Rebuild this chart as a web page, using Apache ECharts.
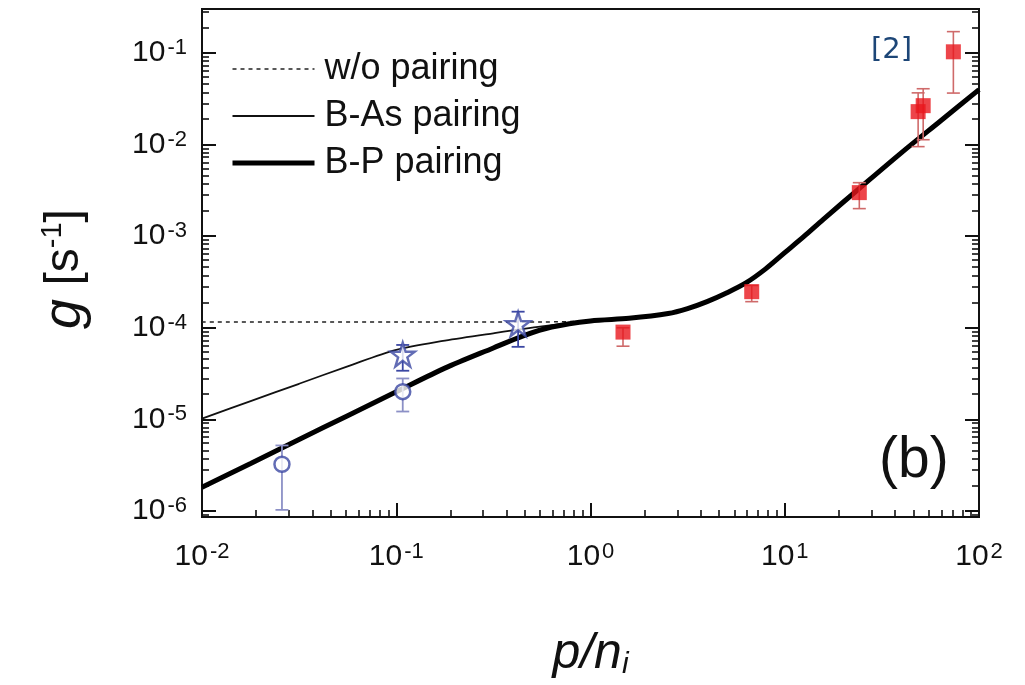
<!DOCTYPE html>
<html>
<head>
<meta charset="utf-8">
<script src="https://cdn.jsdelivr.net/npm/echarts@6/dist/echarts.min.js"></script>
<style>
  html, body { margin: 0; padding: 0; background: #fff; }
  #chart { width: 1025px; height: 685px; }
</style>
</head>
<body>
<div id="chart"></div>
<script>
// Model curve: B-P pairing (g in s^-1 against p/n_i)
const bpP = [0.01, 0.0178, 0.0316, 0.0562, 0.1, 0.178, 0.316, 0.447, 0.631, 1.0, 1.58, 2.51, 3.16, 3.98, 5.01, 6.31, 7.94, 10, 12.6, 15.8, 25.1, 39.8, 63.1, 100];
const bpG = [1.82e-6, 3.31e-6, 6.03e-6, 1.10e-5, 2.0e-5, 3.63e-5, 6.03e-5, 8.13e-5, 1.02e-4, 1.19e-4, 1.27e-4, 1.43e-4, 1.62e-4, 1.93e-4, 2.40e-4, 3.09e-4, 4.37e-4, 6.61e-4, 1.0e-3, 1.53e-3, 3.55e-3, 8.13e-3, 0.0180, 0.0398];

// Model curve: B-As pairing (low-p branch; joins the B-P curve above p/n_i = 1)
const basP = [0.01, 0.0178, 0.0316, 0.0562, 0.1, 0.178, 0.316, 0.562, 1.0];
const basG = [1.02e-5, 1.585e-5, 2.45e-5, 3.80e-5, 5.75e-5, 7.24e-5, 8.71e-5, 1.035e-4, 1.19e-4];

// Model curve: without pairing (flat branch; joins the B-P curve above p/n_i = 1)
const noP = [0.01, 0.1, 0.562, 1.0];
const noG = [1.16e-4, 1.16e-4, 1.16e-4, 1.19e-4];

// Measured points, open circles
const circP = [0.0258, 0.108];
const circG = [3.24e-6, 2.01e-5];
const circLo = [1.03e-6, 1.22e-5];
const circHi = [5.2e-6, 2.8e-5];

// Measured points, open stars
const starP = [0.108, 0.424];
const starG = [5.1e-5, 1.1e-4];
const starLo = [3.4e-5, 6.2e-5];
const starHi = [6.5e-5, 1.5e-4];

// Measured points, filled squares
const sqP = [1.47, 6.76, 24.2, 48.6, 51.6, 73.8];
const sqG = [8.98e-5, 2.48e-4, 2.99e-3, 0.0229, 0.0266, 0.103];
const sqLo = [6.3e-5, 1.93e-4, 2.0e-3, 9.5e-3, 0.0113, 0.0365];
const sqHi = [1.0e-4, 2.9e-4, 3.84e-3, 0.0367, 0.0407, 0.171];

// Axis ranges (decade exponents)
const xRange = [-2, 2];
const yRange = [-6.065, -0.52];

const FONT = 'Liberation Sans, Arial, sans-serif';
const BLUE = '#3b47a3';
const BLUE_ERR = '#8c90c6';
const RED = '#e8161d';
const RED_ERR = '#cf6a6a';

const zip = (xs, ys) => xs.map((x, i) => [x, ys[i]]);
const zip3 = (xs, a, b) => xs.map((x, i) => [x, a[i], b[i]]);

// the other two model curves follow the B-P curve beyond p/n_i = 1
const joinIdx = bpP.indexOf(1.0) + 1;
const basData = zip(basP, basG).concat(zip(bpP.slice(joinIdx), bpG.slice(joinIdx)));
const noData = zip(noP, noG).concat(zip(bpP.slice(joinIdx), bpG.slice(joinIdx)));

function isDecade(v) {
  const e = Math.log10(v);
  return Math.abs(e - Math.round(e)) < 1e-6;
}
function powLabel(v) {
  if (!isDecade(v)) return '';
  return '{b|10}{s|' + Math.round(Math.log10(v)) + '}';
}
const labelRich = {
  b: { fontFamily: FONT, fontSize: 30, color: '#111', lineHeight: 32 },
  s: { fontFamily: FONT, fontSize: 22, color: '#111', lineHeight: 18, verticalAlign: 'top', padding: [0, 0, 0, 2] }
};

function errorBars(cap, width) {
  return function (params, api) {
    const x = api.value(0);
    const lo = api.coord([x, api.value(1)]);
    const hi = api.coord([x, api.value(2)]);
    const style = { stroke: api.visual('color'), lineWidth: width };
    return {
      type: 'group',
      children: [
        { type: 'line', shape: { x1: lo[0], y1: lo[1], x2: hi[0], y2: hi[1] }, style },
        { type: 'line', shape: { x1: lo[0] - cap, y1: lo[1], x2: lo[0] + cap, y2: lo[1] }, style },
        { type: 'line', shape: { x1: hi[0] - cap, y1: hi[1], x2: hi[0] + cap, y2: hi[1] }, style }
      ]
    };
  };
}

const STAR = 'path://M50,2 L61.5,37 L98,37 L68.5,58.5 L79.5,94 L50,72 L20.5,94 L31.5,58.5 L2,37 L38.5,37 Z';

const chart = echarts.init(document.getElementById('chart'), null, { renderer: 'canvas' });

const axisTickCommon = { show: true, inside: true, length: 14, lineStyle: { color: '#111', width: 2 } };
const minorTickCommon = { show: true, splitNumber: 10, length: 7, lineStyle: { color: '#111', width: 1.6 } };

chart.setOption({
  animation: false,
  backgroundColor: '#fff',
  grid: {
    left: 202, top: 9, width: 777, height: 510,
    show: true, borderColor: '#111', borderWidth: 2, backgroundColor: 'transparent'
  },
  legend: {
    orient: 'vertical',
    left: 230, top: 51, padding: 0,
    itemWidth: 82, itemHeight: 14, itemGap: 11,
    itemStyle: { opacity: 0 },
    data: [
      { name: 'w/o pairing', lineStyle: { width: 1.5, type: [4, 4], color: '#222' } },
      { name: 'B-As pairing', lineStyle: { width: 1.8, color: '#111' } },
      { name: 'B-P pairing', lineStyle: { width: 5, color: '#000' } }
    ],
    textStyle: { fontFamily: FONT, fontSize: 36, color: '#111', padding: [0, 0, 0, 5] },
    selectedMode: false
  },
  xAxis: [{
    type: 'log', logBase: 10,
    min: Math.pow(10, xRange[0]), max: Math.pow(10, xRange[1]),
    axisLine: { show: true, lineStyle: { color: '#111', width: 2 } },
    axisTick: axisTickCommon,
    minorTick: minorTickCommon,
    splitLine: { show: false },
    axisLabel: { formatter: powLabel, rich: labelRich, margin: 24 },
    name: '{p|p/n}{i|i}',
    nameLocation: 'middle',
    nameGap: 111,
    nameTextStyle: {
      rich: {
        p: { fontFamily: FONT, fontStyle: 'italic', fontSize: 50, color: '#111', lineHeight: 52 },
        i: { fontFamily: FONT, fontStyle: 'italic', fontSize: 30, color: '#111', lineHeight: 30, verticalAlign: 'bottom' }
      }
    }
  }],
  yAxis: [{
    type: 'log', logBase: 10,
    min: Math.pow(10, yRange[0]), max: Math.pow(10, yRange[1]),
    axisLine: { show: true, lineStyle: { color: '#111', width: 2 } },
    axisTick: axisTickCommon,
    minorTick: minorTickCommon,
    splitLine: { show: false },
    axisLabel: { formatter: powLabel, rich: labelRich, margin: 15, showMinLabel: false, showMaxLabel: false },
    name: '{g|g}{t| [s}{s|-1}{t|]}',
    nameLocation: 'middle',
    nameRotate: 90,
    nameGap: 110,
    nameTextStyle: {
      padding: [0, 12, 0, 0],
      rich: {
        g: { fontFamily: FONT, fontStyle: 'italic', fontSize: 54, color: '#111', lineHeight: 54 },
        t: { fontFamily: FONT, fontSize: 48, color: '#111', lineHeight: 54 },
        s: { fontFamily: FONT, fontSize: 29, color: '#111', lineHeight: 28, verticalAlign: 'top' }
      }
    }
  }, {
    type: 'log', logBase: 10, position: 'right',
    min: Math.pow(10, yRange[0]), max: Math.pow(10, yRange[1]),
    axisLine: { show: true, lineStyle: { color: '#111', width: 2 } },
    axisTick: axisTickCommon,
    minorTick: minorTickCommon,
    splitLine: { show: false },
    axisLabel: { show: false }
  }],
  series: [
    {
      name: 'w/o pairing', type: 'line', data: noData, smooth: 0.3, symbol: 'none',
      lineStyle: { color: '#222', width: 1.5, type: [4, 4] }, itemStyle: { color: '#222' }, z: 2
    },
    {
      name: 'B-As pairing', type: 'line', data: basData, smooth: 0.3, symbol: 'none',
      lineStyle: { color: '#111', width: 1.8 }, itemStyle: { color: '#111' }, z: 3
    },
    {
      name: 'B-P pairing', type: 'line', data: zip(bpP, bpG), smooth: 0.3, symbol: 'none',
      lineStyle: { color: '#000', width: 5 }, itemStyle: { color: '#000' }, z: 4
    },
    {
      type: 'custom', renderItem: errorBars(6.5, 1.8), data: zip3(circP, circLo, circHi),
      encode: { x: 0, y: [1, 2] }, itemStyle: { color: BLUE_ERR }, z: 5
    },
    {
      type: 'custom', renderItem: errorBars(6.5, 1.8), data: zip3(starP, starLo, starHi),
      encode: { x: 0, y: [1, 2] }, itemStyle: { color: BLUE }, z: 5
    },
    {
      type: 'custom', renderItem: errorBars(6.5, 1.6), data: zip3(sqP, sqLo, sqHi),
      encode: { x: 0, y: [1, 2] }, itemStyle: { color: RED_ERR }, z: 5
    },
    {
      type: 'scatter', data: zip(circP, circG), symbol: 'circle', symbolSize: 15,
      itemStyle: { color: '#fff', borderColor: BLUE, borderWidth: 2.5 }, z: 6
    },
    {
      type: 'scatter', data: zip(starP, starG), symbol: STAR, symbolSize: 24,
      itemStyle: { color: '#fff', borderColor: BLUE, borderWidth: 2.4 }, z: 6
    },
    {
      type: 'scatter', data: zip(sqP, sqG), symbol: 'rect', symbolSize: 15,
      itemStyle: { color: RED }, z: 6
    }
  ],
  graphic: [
    {
      type: 'text', left: 879, top: 433, z: 10,
      style: { text: '(b)', fontFamily: FONT, fontSize: 57, fill: '#111' }
    },
    {
      type: 'text', left: 871, top: 36, z: 10,
      style: { text: '[2]', fontFamily: 'DejaVu Sans, sans-serif', fontSize: 29, fill: '#1d4677' }
    }
  ]
});
</script>
</body>
</html>
